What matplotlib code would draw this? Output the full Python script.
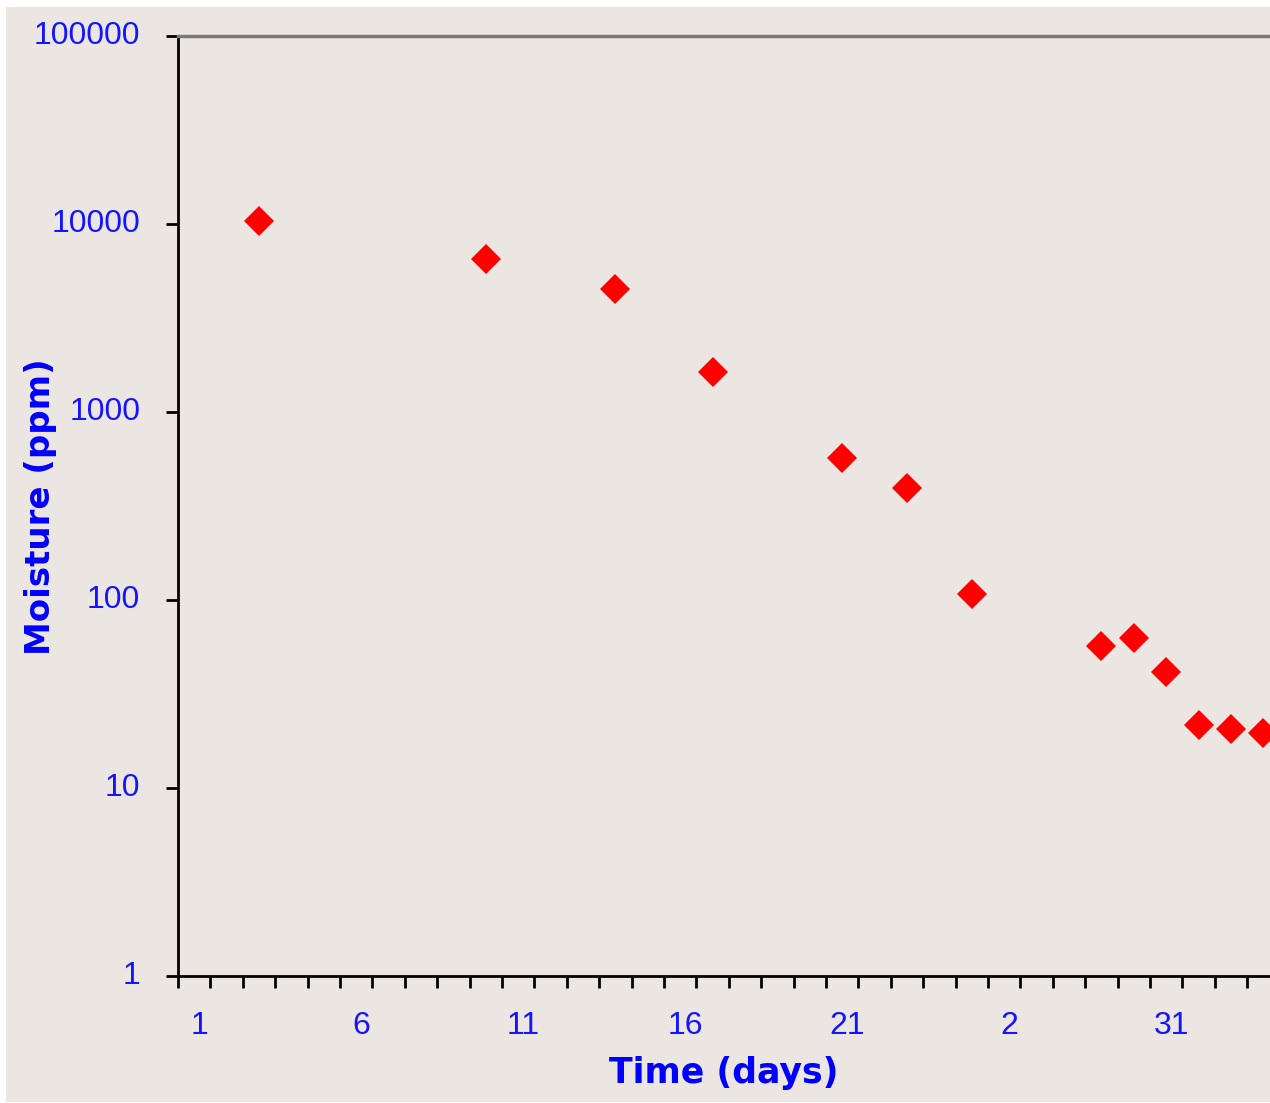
import matplotlib
matplotlib.use("Agg")
from matplotlib import pyplot as plt
from matplotlib.patches import Rectangle
import matplotlib.transforms as mtransforms

# Moisture readings, one per sampled day
days = [3, 10, 14, 17, 21, 23, 25, 29, 30, 31, 32, 33, 34]
moisture = [10400, 6500, 4500, 1630, 570, 395, 108, 57, 63, 41.5, 21.6, 20.6, 19.6]

# category labels (centred between the day boundary ticks)
xlabel_pos = [1, 6, 11, 16, 21, 26, 31]
xlabel_txt = ['1', '6', '11', '16', '21', '2', '31']
ytick_vals = [1, 10, 100, 1000, 10000, 100000]
ytick_txt = ['1', '10', '100', '1000', '10000', '100000']

bg = '#ebe6e2'
blue = '#1414ff'

W, H = 1270, 1103
fig = plt.figure(figsize=(W / 100, H / 100), dpi=100)
fig.patch.set_facecolor('white')
fig.patches.append(Rectangle((6 / W, 1 / H), 1 - 6 / W, (H - 8) / H,
                             transform=fig.transFigure, facecolor=bg,
                             edgecolor='none', zorder=-5))

# axes: left edge at 178px, 32.4px per day, runs past the right edge
px_day = 32.4
ndays = 36
ax = fig.add_axes([178 / W, (H - 976) / H, ndays * px_day / W, (976 - 36) / H])
ax.set_facecolor(bg)
ax.set_xlim(0.5, ndays + 0.5)
ax.set_yscale('log')
ax.set_ylim(1, 100000)

ax.plot(days, moisture, linestyle='none', marker='D', markersize=15,
        color='red', markeredgewidth=0, clip_on=False, zorder=3)

ax.spines['right'].set_visible(False)
ax.spines['top'].set_color('#7a7a7a')
ax.spines['top'].set_linewidth(2.5)
ax.spines['left'].set_color('black')
ax.spines['left'].set_linewidth(2)
ax.spines['bottom'].set_color('black')
ax.spines['bottom'].set_linewidth(2)

# ticks on the day boundaries, labels in the middle of each day
ax.set_xticks([d + 0.5 for d in range(0, ndays + 1)])
ax.set_xticklabels([])
ax.tick_params(axis='x', which='major', direction='out', length=8.6, width=2,
               color='black')
for p, t in zip(xlabel_pos, xlabel_txt):
    ax.text(p + 0.15, -0.053, t, transform=ax.get_xaxis_transform(),
            ha='center', va='center', color=blue, fontsize=23,
            family='Liberation Sans')

ax.set_yticks(ytick_vals)
ax.set_yticklabels(ytick_txt)
ax.yaxis.set_minor_locator(matplotlib.ticker.NullLocator())
ax.tick_params(axis='y', which='major', direction='out', length=8.6, width=2,
               color='black', pad=18.5, labelcolor=blue, labelsize=23)
offset = mtransforms.ScaledTranslation(0, 4 / 100, fig.dpi_scale_trans)
for lbl in ax.get_yticklabels():
    lbl.set_family('Liberation Sans')
    lbl.set_transform(lbl.get_transform() + offset)

fig.text(724 / W, 1 - 1073 / H, 'Time (days)', ha='center', va='center',
         color='blue', fontsize=25, fontweight='bold', family='DejaVu Sans')
fig.text(41 / W, 1 - 507 / H, 'Moisture (ppm)', ha='center', va='center',
         rotation=90, color='blue', fontsize=24.5, fontweight='bold',
         family='DejaVu Sans')

plt.savefig('out.png', dpi=100, facecolor=fig.get_facecolor())
